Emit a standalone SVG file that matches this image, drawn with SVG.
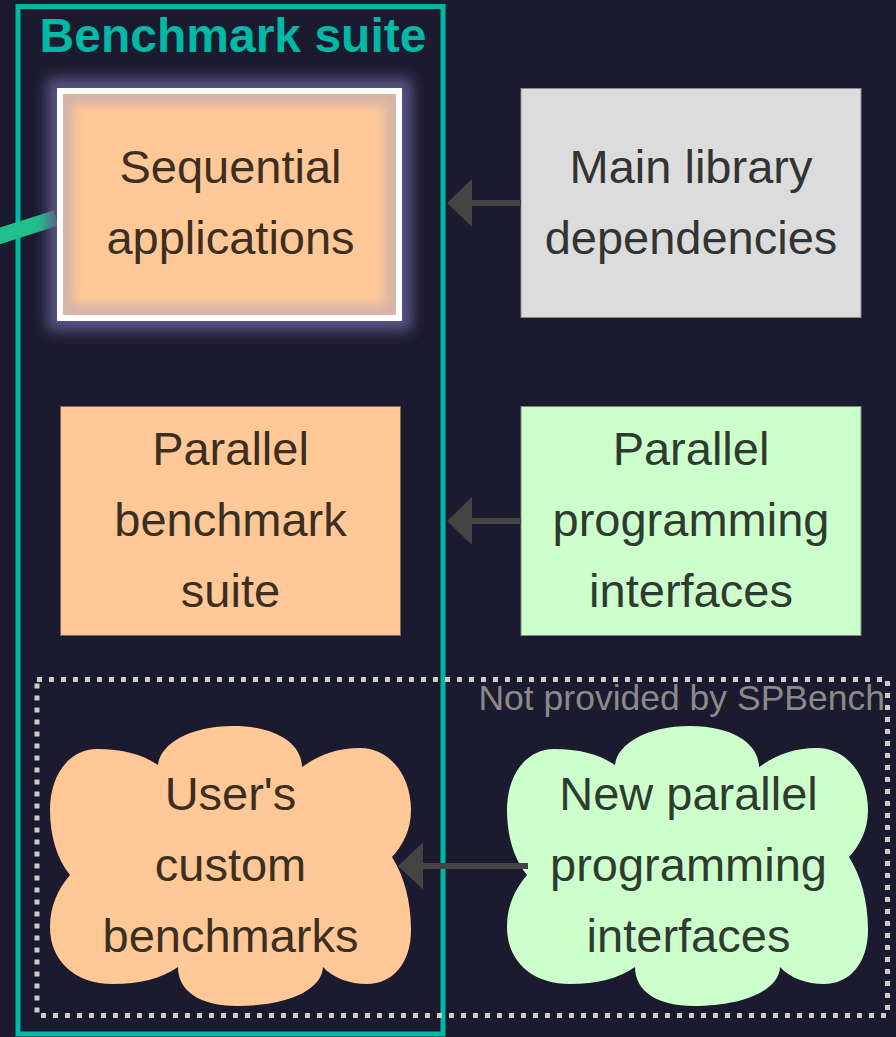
<svg xmlns="http://www.w3.org/2000/svg" width="896" height="1037" viewBox="0 0 896 1037">
  <style>
    .lbl { font-family: "Liberation Sans", Arial, sans-serif; font-size: 47px; text-anchor: middle; }
    .peach { fill: #ffc896; }
    .tpeach { fill: #3b2f22; }
    .tgreen { fill: #2e3b2e; }
    .tgray { fill: #333333; }
    .conn line { stroke: #444444; stroke-width: 6; }
    .conn polygon { fill: #444444; }
  </style>
  <defs>
    <filter id="glow" x="-20%" y="-20%" width="140%" height="140%">
      <feGaussianBlur stdDeviation="7"/>
    </filter>
    <filter id="inner" x="-20%" y="-20%" width="140%" height="140%">
      <feGaussianBlur stdDeviation="5"/>
    </filter>
    <clipPath id="seqclip">
      <rect x="63" y="94" width="333" height="221"/>
    </clipPath>
    <path id="cloud" d="M 108 39 C 110 18, 140 0, 183 0 C 226 0, 252 18, 252 41 C 268 30, 285 22, 310 22 C 340 22, 361 50, 361 84 C 361 105, 352 120, 342 131 C 354 150, 361 175, 361 204 C 361 238, 342 258, 317 258 C 300 258, 283 252, 273 241 C 272 265, 235 280, 187 280 C 150 280, 128 265, 128 241 C 110 253, 90 258, 63 258 C 25 258, 0 235, 0 201 C 0 180, 8 163, 20 149 C 7 133, 0 110, 0 84 C 0 48, 20 23, 47 23 C 72 23, 92 28, 108 39 Z"/>
  </defs>
  <rect x="0" y="0" width="896" height="1037" fill="#1c1a2e"/>

  <g id="benchmark-suite">
    <rect x="18" y="6.5" width="425" height="1027.5" fill="none" stroke="#00b8a6" stroke-width="5"/>
    <text x="233" y="52" font-family="Liberation Sans, Arial, sans-serif" font-size="48" font-weight="bold" fill="#00b8a6" text-anchor="middle">Benchmark suite</text>
  </g>

  <g id="not-provided">
    <rect x="37" y="679.5" width="850.5" height="336" fill="none" stroke="#cccccc" stroke-width="5" stroke-dasharray="5 7"/>
    <text x="885" y="710" font-family="Liberation Sans, Arial, sans-serif" font-size="35.5" fill="#8a8a8a" text-anchor="end">Not provided by SPBench</text>
  </g>

  <g id="incoming-edge">
    <line x1="-10" y1="239" x2="56" y2="218" stroke="#20c08c" stroke-width="16"/>
  </g>

  <g id="sequential-applications">
    <rect x="47" y="78" width="365" height="253" fill="#5e5c8e" opacity="0.9" filter="url(#glow)"/>
    <rect x="60" y="91" width="339" height="227" fill="none" stroke="#ffffff" stroke-width="6"/>
    <g clip-path="url(#seqclip)">
      <rect x="63" y="94" width="333" height="221" fill="#d6b4a6"/>
      <rect x="74" y="105" width="311" height="199" class="peach" filter="url(#inner)"/>
    </g>
    <text class="lbl tpeach" x="230.5" y="183">Sequential</text>
    <text class="lbl tpeach" x="230.5" y="254">applications</text>
  </g>

  <g id="main-library-dependencies">
    <rect x="521" y="88.5" width="340" height="229" fill="#dcdcdc" stroke="#8a8a8a" stroke-width="1"/>
    <text class="lbl tgray" x="691" y="183">Main library</text>
    <text class="lbl tgray" x="691" y="254">dependencies</text>
  </g>

  <g id="parallel-benchmark-suite">
    <rect x="60.5" y="406.5" width="340" height="229" class="peach" stroke="#7a6a60" stroke-width="1"/>
    <text class="lbl tpeach" x="230.5" y="465">Parallel</text>
    <text class="lbl tpeach" x="230.5" y="536">benchmark</text>
    <text class="lbl tpeach" x="230.5" y="607">suite</text>
  </g>

  <g id="parallel-programming-interfaces">
    <rect x="521" y="406.5" width="340" height="229" fill="#ccffcc" stroke="#7a8a7a" stroke-width="1"/>
    <text class="lbl tgreen" x="691" y="465">Parallel</text>
    <text class="lbl tgreen" x="691" y="536">programming</text>
    <text class="lbl tgreen" x="691" y="607">interfaces</text>
  </g>

  <g id="users-custom-benchmarks">
    <use href="#cloud" transform="translate(50,726)" class="peach"/>
    <text class="lbl tpeach" x="230.5" y="810">User's</text>
    <text class="lbl tpeach" x="230.5" y="881">custom</text>
    <text class="lbl tpeach" x="230.5" y="952">benchmarks</text>
  </g>

  <g id="new-parallel-programming-interfaces">
    <use href="#cloud" transform="translate(507,726)" fill="#ccffcc"/>
    <text class="lbl tgreen" x="688.5" y="810">New parallel</text>
    <text class="lbl tgreen" x="688.5" y="881">programming</text>
    <text class="lbl tgreen" x="688.5" y="952">interfaces</text>
  </g>

  <g id="connectors" class="conn">
    <line x1="521" y1="203" x2="470" y2="203"/>
    <polygon points="447,203 472,179 472,227"/>
    <line x1="521" y1="521" x2="470" y2="521"/>
    <polygon points="447,521 472,497 472,545"/>
    <line x1="528" y1="866" x2="421" y2="866"/>
    <polygon points="398,866 423,842.5 423,889.5"/>
  </g>
</svg>
